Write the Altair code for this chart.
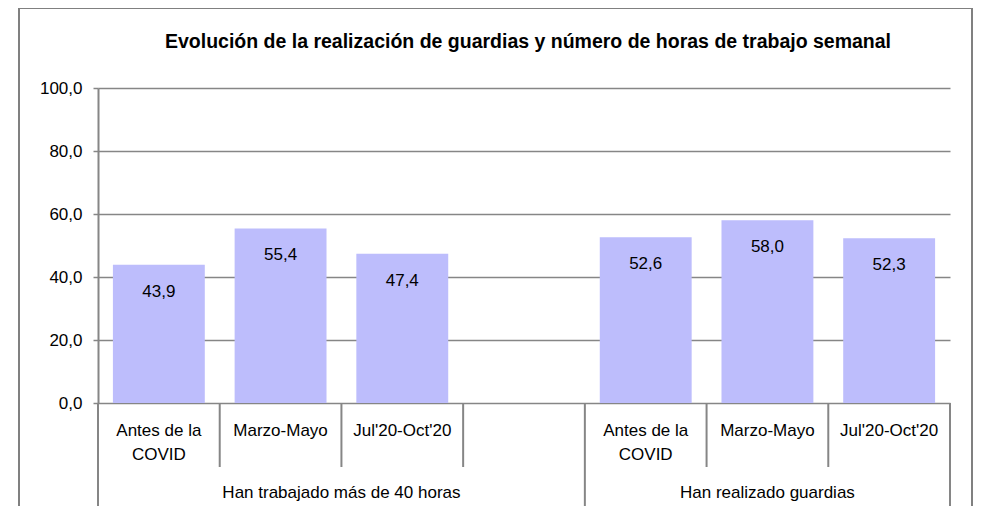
import altair as alt
import pandas as pd

# ---- data ----
slots = ["A1", "A2", "A3", "A4", "B1", "B2", "B3"]          # A4 is the empty gap slot
bar_slots = ["A1", "A2", "A3", "B1", "B2", "B3"]
values = [43.9, 55.4, 47.4, 52.6, 58.0, 52.3]
periods = ["Antes de la\nCOVID", "Marzo-Mayo", "Jul'20-Oct'20"] * 2
groups = ["Han trabajado más de 40 horas", "Han realizado guardias"]
title = "Evolución de la realización de guardias y número de horas de trabajo semanal"

FONT = "Liberation Sans"
GRAY = "#868686"
BAR = "#BDBDFC"
FS = 17

bars_df = pd.DataFrame({"slot": bar_slots, "value": values, "period": periods})
sep_short = pd.DataFrame({"slot": ["A2", "A3", "A4", "B2", "B3"]})
sep_long_start = pd.DataFrame({"slot": ["A1", "B1"]})
sep_long_end = pd.DataFrame({"slot": ["B3"]})
grp_left = pd.DataFrame({"slot": ["A2"], "group": [groups[0]]})
grp_right = pd.DataFrame({"slot": ["B2"], "group": [groups[1]]})
title_df = pd.DataFrame({"t": [title]})

xscale = alt.Scale(domain=slots, paddingInner=0, paddingOuter=0)

def X(pos=None):
    kw = dict(scale=xscale, axis=None)
    if pos is not None:
        kw["bandPosition"] = pos
    return alt.X("slot:N", **kw)

frame = alt.Chart(pd.DataFrame({"a": [0]})).mark_rect(
    fill="white", fillOpacity=0, stroke="#808080", strokeWidth=2
).encode(x=alt.value(-79), x2=alt.value(874), y=alt.value(-80), y2=alt.value(440))

title_mark = alt.Chart(title_df).mark_text(
    font=FONT, fontSize=19.5, fontWeight="bold", color="black", baseline="middle", align="center"
).encode(x=alt.value(430), y=alt.value(-46), text="t:N")

base = alt.Chart(bars_df)

bars = base.mark_bar(color=BAR, width=alt.RelativeBandSize(0.755)).encode(
    x=X(),
    y=alt.Y(
        "value:Q",
        scale=alt.Scale(domain=[0, 100]),
        axis=alt.Axis(
            values=[0, 20, 40, 60, 80, 100],
            labelExpr="replace(format(datum.value, '.1f'), '.', ',')",
            title=None,
            grid=True,
            gridColor=GRAY,
            gridWidth=1.5,
            domainColor=GRAY,
            domainWidth=2,
            tickColor=GRAY,
            tickWidth=1.5,
            tickSize=5,
            labelFont=FONT,
            labelFontSize=FS,
            labelColor="black",
            labelPadding=11,
        ),
    ),
)

labels = base.mark_text(font=FONT, fontSize=FS, color="black", baseline="middle", dy=27).transform_calculate(
    lab="replace(format(datum.value, '.1f'), '.', ',')"
).encode(x=X(), y="value:Q", text="lab:N")

rule_short = alt.Chart(sep_short).mark_rule(color=GRAY, strokeWidth=2).encode(
    x=X(0), y=alt.value(315), y2=alt.value(379)
)
rule_long = alt.Chart(sep_long_start).mark_rule(color=GRAY, strokeWidth=2).encode(
    x=X(0), y=alt.value(315), y2=alt.value(419)
)
rule_end = alt.Chart(sep_long_end).mark_rule(color=GRAY, strokeWidth=2).encode(
    x=X(1), y=alt.value(315), y2=alt.value(419)
)

cat_text = base.mark_text(
    font=FONT, fontSize=FS, color="black", baseline="top", lineBreak="\n", lineHeight=24
).encode(x=X(), y=alt.value(335), text="period:N")

grp_l = alt.Chart(grp_left).mark_text(font=FONT, fontSize=FS, color="black", baseline="middle").encode(
    x=X(1), y=alt.value(405), text="group:N"
)
grp_r = alt.Chart(grp_right).mark_text(font=FONT, fontSize=FS, color="black", baseline="middle").encode(
    x=X(), y=alt.value(405), text="group:N"
)

chart = alt.layer(
    frame, title_mark, bars, labels, rule_short, rule_long, rule_end, cat_text, grp_l, grp_r
).properties(
    width=852,
    height=315,
    autosize=alt.AutoSizeParams(type="none"),
    padding={"left": 90, "top": 80, "right": 24, "bottom": 103},
).configure_view(stroke=None)

chart.save("out.html", embed_options={"renderer": "svg", "actions": False})
